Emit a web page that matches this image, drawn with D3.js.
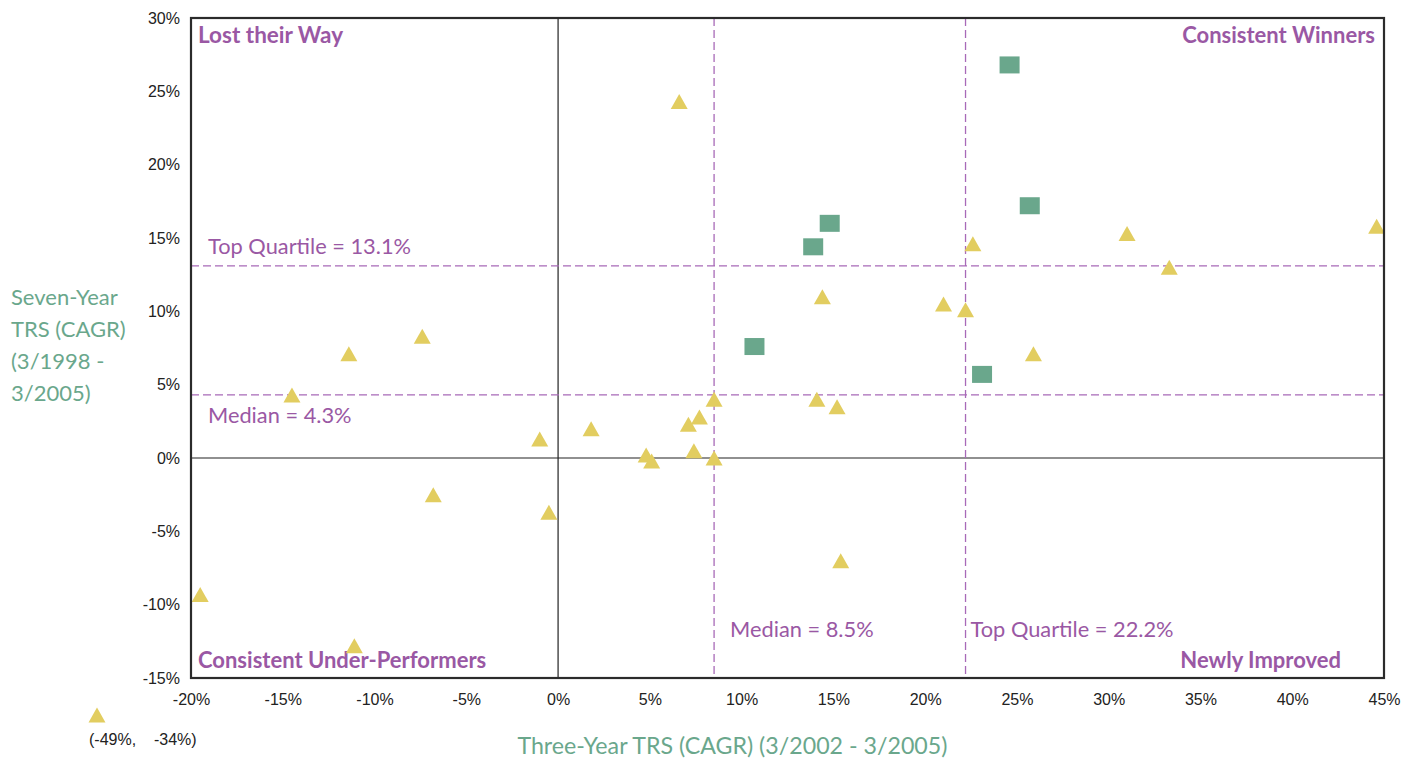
<!DOCTYPE html>
<html>
<head>
<meta charset="utf-8">
<script src="https://cdn.jsdelivr.net/npm/d3@7/dist/d3.min.js"></script>
<style>
  html, body { margin: 0; padding: 0; background: #ffffff; }
  svg { display: block; }
</style>
</head>
<body>
<svg id="chart" width="1412" height="760"></svg>
<script>
// Three-year TRS (x) vs seven-year TRS (y), in percent
const winnersX = [24.6, 25.7, 14.8, 13.9, 10.7, 23.1];
const winnersY = [26.8, 17.2, 16.0, 14.4, 7.6, 5.7];

const othersX = [6.6, 22.6, 14.4, 21.0, 22.2, 8.5, 14.1, 15.2, 7.7, 7.1, 1.8, 7.4, 4.8, 5.1, 8.5,
                 31.0, 33.3, 44.6, 25.9,
                 -11.4, -7.4, -14.5, -1.0, -6.8, -0.5, -19.5, -11.1, 15.4];
const othersY = [24.3, 14.6, 11.0, 10.5, 10.1, 4.0, 4.0, 3.5, 2.8, 2.3, 2.0, 0.5, 0.2, -0.2, 0.0,
                 15.3, 13.0, 15.8, 7.1,
                 7.1, 8.3, 4.3, 1.3, -2.5, -3.7, -9.3, -12.8, -7.0];

// Off-scale observation, shown below the axis with its value
const offScale = { x: -49, y: -34, label: "(-49%,    -34%)" };

const xTicks = [-20, -15, -10, -5, 0, 5, 10, 15, 20, 25, 30, 35, 40, 45];
const yTicks = [-15, -10, -5, 0, 5, 10, 15, 20, 25, 30];

const xMedian = 8.5, xTopQuartile = 22.2;
const yMedian = 4.3, yTopQuartile = 13.1;

const quadrantLabels = ["Lost their Way", "Consistent Winners", "Consistent Under-Performers", "Newly Improved"];

// Layout
const plot = { left: 191, top: 18, width: 1193, height: 660 };
const purple = "#9a58a4";
const purpleLine = "#a86ab8";
const green = "#6aa78c";
const yellow = "#e2cd60";
const tickFont = "'Liberation Sans', Arial, sans-serif";
const labelFont = "Lato, 'Open Sans', sans-serif";

const svg = d3.select("#chart");

const x = d3.scaleLinear().domain([-20, 45]).range([plot.left, plot.left + plot.width]);
const y = d3.scaleLinear().domain([-15, 30]).range([plot.top + plot.height, plot.top]);

const pct = v => `${v}%`;

// Axes (labels only; the frame serves as the axis line)
const xAxis = svg.append("g")
  .attr("transform", `translate(0,${plot.top + plot.height})`)
  .call(d3.axisBottom(x).tickValues(xTicks).tickFormat(pct).tickSize(0).tickPadding(16));
const yAxis = svg.append("g")
  .attr("transform", `translate(${plot.left},0)`)
  .call(d3.axisLeft(y).tickValues(yTicks).tickFormat(pct).tickSize(0).tickPadding(11));
[xAxis, yAxis].forEach(g => {
  g.select(".domain").remove();
  g.selectAll("text")
    .attr("fill", "#222")
    .style("font-family", tickFont)
    .style("font-size", "16px");
});

// Zero lines
svg.append("line")
  .attr("x1", x(0)).attr("x2", x(0))
  .attr("y1", plot.top).attr("y2", plot.top + plot.height)
  .attr("stroke", "#222").attr("stroke-width", 1.2);
svg.append("line")
  .attr("x1", plot.left).attr("x2", plot.left + plot.width)
  .attr("y1", y(0)).attr("y2", y(0))
  .attr("stroke", "#222").attr("stroke-width", 1.2);

// Median / top-quartile reference lines
const refLines = svg.append("g")
  .attr("stroke", purpleLine).attr("stroke-width", 1.3)
  .attr("stroke-dasharray", "8,4").attr("fill", "none");
[xMedian, xTopQuartile].forEach(v => {
  refLines.append("line")
    .attr("x1", x(v)).attr("x2", x(v))
    .attr("y1", plot.top).attr("y2", plot.top + plot.height);
});
[yMedian, yTopQuartile].forEach(v => {
  refLines.append("line")
    .attr("x1", plot.left).attr("x2", plot.left + plot.width)
    .attr("y1", y(v)).attr("y2", y(v));
});

// Reference line labels
const refText = svg.append("g")
  .attr("fill", purple)
  .style("font-family", labelFont)
  .style("font-size", "21.8px");
refText.append("text").attr("x", plot.left + 17).attr("y", y(yTopQuartile) - 12)
  .text(`Top Quartile = ${yTopQuartile}%`);
refText.append("text").attr("x", plot.left + 17).attr("y", y(yMedian) + 28)
  .text(`Median = ${yMedian}%`);
refText.append("text").attr("x", x(xMedian) + 16).attr("y", y(-12) + 3)
  .text(`Median = ${xMedian}%`);
refText.append("text").attr("x", x(xTopQuartile) + 5).attr("y", y(-12) + 3)
  .text(`Top Quartile = ${xTopQuartile}%`);

// Quadrant labels
const quad = svg.append("g")
  .attr("fill", purple)
  .style("font-family", labelFont)
  .style("font-size", "22px")
  .style("font-weight", "bold");
quad.append("text").attr("x", plot.left + 7).attr("y", plot.top + 25)
  .style("font-size", "22.5px").text(quadrantLabels[0]);
quad.append("text").attr("x", plot.left + plot.width - 9).attr("y", plot.top + 25)
  .attr("text-anchor", "end").text(quadrantLabels[1]);
quad.append("text").attr("x", plot.left + 7).attr("y", plot.top + plot.height - 10)
  .text(quadrantLabels[2]);
quad.append("text").attr("x", plot.left + plot.width - 43).attr("y", plot.top + plot.height - 10)
  .attr("text-anchor", "end").text(quadrantLabels[3]);

// Markers
const triW = 17, triH = 15;
const triPath = `M0,${-triH / 2}L${triW / 2},${triH / 2}L${-triW / 2},${triH / 2}Z`;
const sqW = 20, sqH = 17;

const others = othersX.map((v, i) => ({ x: v, y: othersY[i] }));
const winners = winnersX.map((v, i) => ({ x: v, y: winnersY[i] }));

svg.append("g").selectAll("path")
  .data(others)
  .join("path")
  .attr("d", triPath)
  .attr("transform", d => `translate(${x(d.x)},${y(d.y)})`)
  .attr("fill", yellow);

svg.append("g").selectAll("rect")
  .data(winners)
  .join("rect")
  .attr("x", d => x(d.x) - sqW / 2)
  .attr("y", d => y(d.y) - sqH / 2)
  .attr("width", sqW).attr("height", sqH)
  .attr("fill", green);

// Off-scale point, set below-left of the plot
const osX = x(-20) - 94, osY = y(-15) + 37;
svg.append("path").attr("d", triPath)
  .attr("transform", `translate(${osX},${osY})`)
  .attr("fill", yellow);
svg.append("text")
  .attr("x", osX - 8).attr("y", osY + 30)
  .attr("fill", "#222")
  .style("font-family", tickFont).style("font-size", "16px")
  .style("white-space", "pre")
  .text(offScale.label);

// Frame
svg.append("rect")
  .attr("x", plot.left).attr("y", plot.top)
  .attr("width", plot.width).attr("height", plot.height)
  .attr("fill", "none").attr("stroke", "#2b2b2b").attr("stroke-width", 2.2);

// Axis titles
svg.append("text")
  .attr("x", x(9.5)).attr("y", 754)
  .attr("text-anchor", "middle")
  .attr("fill", green)
  .style("font-family", labelFont).style("font-size", "23.2px")
  .text("Three-Year TRS (CAGR) (3/2002 - 3/2005)");

const yTitle = svg.append("text")
  .attr("fill", green)
  .style("font-family", labelFont).style("font-size", "22px");
["Seven-Year", "TRS (CAGR)", "(3/1998 -", "3/2005)"].forEach((line, i) => {
  yTitle.append("tspan").attr("x", 11).attr("y", 305 + i * 32).text(line);
});
</script>
</body>
</html>
